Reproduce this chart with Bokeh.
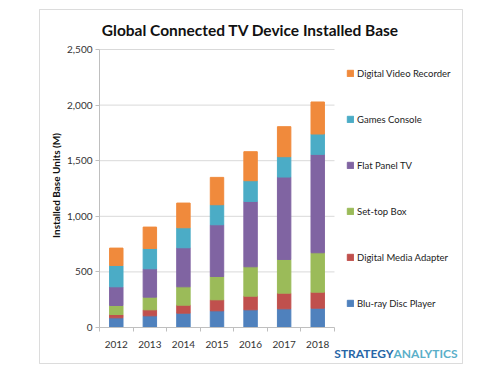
import math
from bokeh.plotting import figure
from bokeh.models import (Label, Legend, LegendItem, NumeralTickFormatter,
                          BoxAnnotation, Range1d, ColumnDataSource, FixedTicker)
from bokeh.embed import file_html
from bokeh.resources import INLINE

years = ["2012", "2013", "2014", "2015", "2016", "2017", "2018"]
blu_ray = [87, 105, 129, 150, 159, 168, 174]
digital_media_adapter = [30, 54, 72, 99, 123, 141, 144]
set_top_box = [81, 114, 165, 210, 264, 303, 354]
flat_panel_tv = [168, 255, 351, 465, 588, 741, 885]
games_console = [192, 183, 180, 180, 186, 183, 183]
digital_video_recorder = [156, 192, 222, 246, 261, 270, 288]

series_keys = ["blu_ray", "dma", "stb", "fptv", "games", "dvr"]
series_names = ["Blu-ray Disc Player", "Digital Media Adapter", "Set-top Box",
                "Flat Panel TV", "Games Console", "Digital Video Recorder"]
colors = ["#4F81BD", "#C0504D", "#9BBB59", "#8064A2", "#4BACC6", "#F08A3C"]
y_ticks = [0, 500, 1000, 1500, 2000, 2500]
y_max = 2500

# ---- layout (pixels on the 500x375 canvas) ----
W, H = 500, 375
PL, PR, PT, PB = 99, 334, 49, 327          # plot-area edges
FONT = "Lato"

n = len(years)
xpos = list(range(n))
ux = (PR - PL) / n                          # px per category
uy = (PB - PT) / y_max                      # px per unit
x_range = Range1d(-0.5 - PL / ux, -0.5 + (W - PL) / ux)
y_range = Range1d(-(H - PB) / uy, PB / uy)

source = ColumnDataSource(dict(
    x=xpos, blu_ray=blu_ray, dma=digital_media_adapter, stb=set_top_box,
    fptv=flat_panel_tv, games=games_console, dvr=digital_video_recorder))

p = figure(x_range=x_range, y_range=y_range, width=W, height=H,
           output_backend="svg", toolbar_location=None,
           min_border=0, min_border_left=0, min_border_right=0,
           min_border_top=0, min_border_bottom=0)
p.outline_line_color = None
p.background_fill_color = "white"
p.border_fill_color = "white"
p.xgrid.visible = False
p.ygrid.visible = False

# horizontal gridlines, limited to the plot area
p.segment(x0=-0.5, x1=n - 0.5, y0=y_ticks[1:], y1=y_ticks[1:],
          line_color="#D9D9D9", line_width=1)

renderers = p.vbar_stack(series_keys, x="x", width=0.4, color=colors,
                         line_color=colors, source=source)

# y axis drawn at the left edge of the plot area
yax = p.yaxis[0]
yax.fixed_location = -0.5
yax.bounds = (0, y_max)
yax.ticker = FixedTicker(ticks=y_ticks)
yax.formatter = NumeralTickFormatter(format="0,0")
yax.axis_line_color = "#BFBFBF"
yax.major_tick_line_color = "#BFBFBF"
yax.major_tick_out = 4
yax.major_tick_in = 0
yax.minor_tick_line_color = None
yax.major_label_standoff = 3
yax.major_label_text_font = FONT
yax.major_label_text_font_size = "10px"
yax.major_label_text_color = "#333333"

# x axis drawn at y = 0
xax = p.xaxis[0]
xax.fixed_location = 0
xax.bounds = (-0.5, n - 0.5)
xax.ticker = FixedTicker(ticks=xpos, minor_ticks=[i - 0.5 for i in range(n + 1)])
xax.major_label_overrides = {i: y for i, y in zip(xpos, years)}
xax.axis_line_color = "#BFBFBF"
xax.major_tick_line_color = None
xax.minor_tick_line_color = "#BFBFBF"
xax.minor_tick_out = 4
xax.minor_tick_in = 0
xax.major_label_standoff = 7
xax.major_label_text_font = FONT
xax.major_label_text_font_size = "10px"
xax.major_label_text_color = "#333333"

# outer frame
p.add_layout(BoxAnnotation(left=39, right=462, top=H - 9, bottom=H - 363,
                           left_units="screen", right_units="screen",
                           top_units="screen", bottom_units="screen",
                           fill_alpha=0, line_color="#8C8C8C", line_width=1))

# title
p.add_layout(Label(x=250, y=H - 29, x_units="screen", y_units="screen",
                   text="Global Connected TV Device Installed Base",
                   text_font=FONT, text_font_style="bold", text_font_size="15.5px",
                   text_align="center", text_baseline="middle", text_color="#111111"))

# y axis title
p.add_layout(Label(x=55, y=H - 185, x_units="screen", y_units="screen",
                   text="Installed Base Units (M)", angle=math.pi / 2,
                   text_font=FONT, text_font_style="bold", text_font_size="10px",
                   text_align="center", text_baseline="middle", text_color="#111111"))

# brand mark
p.add_layout(Label(x=393, y=H - 353, x_units="screen", y_units="screen",
                   text="STRATEGY", text_font=FONT, text_font_style="bold",
                   text_font_size="12px", text_align="right", text_baseline="middle",
                   text_color="#2866A6"))
p.add_layout(Label(x=393, y=H - 353, x_units="screen", y_units="screen",
                   text="ANALYTICS", text_font=FONT, text_font_style="bold",
                   text_font_size="12px", text_align="left", text_baseline="middle",
                   text_color="#5AAFC9"))

items = [LegendItem(label=nm, renderers=[r]) for nm, r in zip(series_names, renderers)]
legend = Legend(items=items[::-1], location=(346, H - 309.5), orientation="vertical",
                glyph_width=8, glyph_height=8, label_height=13, spacing=33,
                padding=0, margin=0, label_standoff=3,
                label_text_font=FONT, label_text_font_size="9.5px",
                label_text_color="#222222",
                border_line_color=None, background_fill_alpha=0)
p.add_layout(legend, "center")

open("out.html", "w").write(file_html(p, INLINE))
